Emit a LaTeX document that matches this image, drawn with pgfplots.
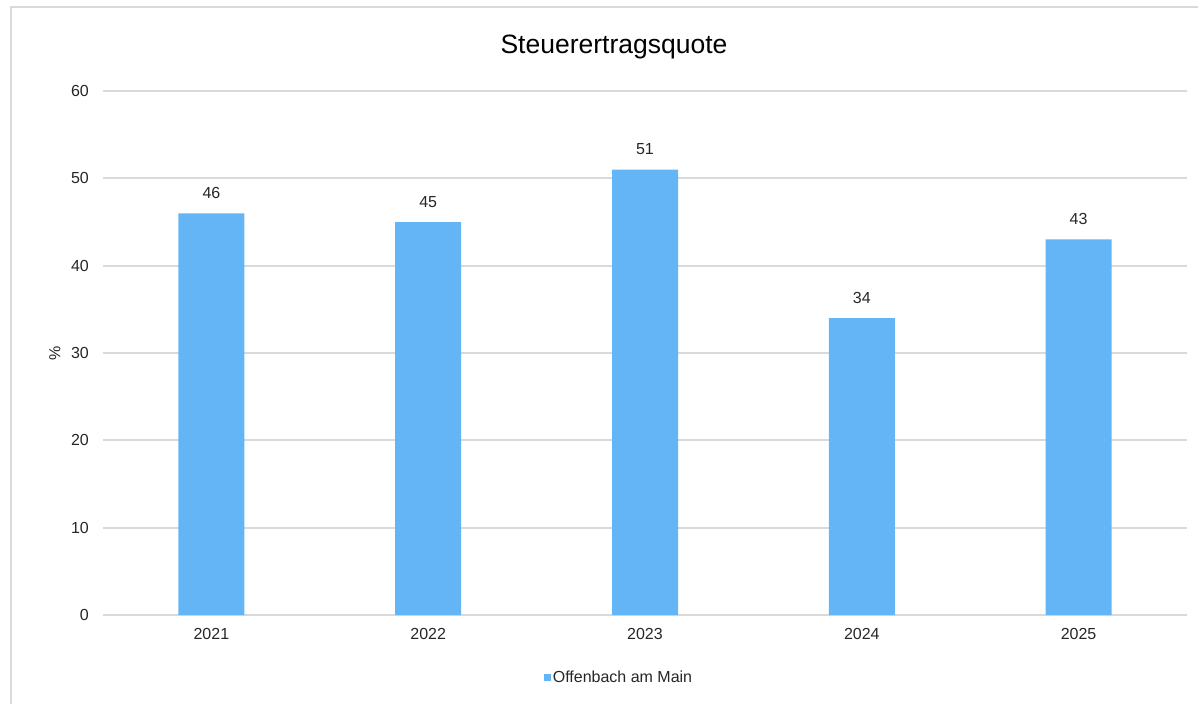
\documentclass[border=0pt]{standalone}
\usepackage{pgfplots}
\pgfplotsset{compat=1.18}
\usepackage{fontspec}
\setmainfont{Liberation Sans}

\definecolor{barblue}{RGB}{100,181,246}
\definecolor{gridgray}{RGB}{217,217,217}
\definecolor{txt}{RGB}{38,38,38}

\begin{document}
\begin{tikzpicture}
\useasboundingbox (-103pt,-89pt) rectangle (1095pt,615pt);
% chart frame (left and top edges only)
\draw[gridgray, line width=2.5pt] (-92pt,-89pt) -- (-92pt,608pt) -- (1095pt,608pt);
\begin{axis}[
    at={(0pt,0pt)}, anchor=south west,
    scale only axis,
    width=1084pt, height=524pt,
    xmin=-0.5, xmax=4.5,
    ymin=0, ymax=60,
    ytick={0,10,...,60},
    xtick=data,
    xticklabels={2021,2022,2023,2024,2025},
    major tick length=0pt,
    axis lines*=left,
    axis line style={draw=none},
    ymajorgrids,
    grid style={gridgray, line width=2pt},
    font=\fontsize{16pt}{19pt}\selectfont,
    tick label style={txt},
    /pgf/number format/assume math mode=true,
    yticklabel style={anchor=east, inner sep=0pt, xshift=-14pt},
    xticklabel style={anchor=north, inner sep=0pt, yshift=-13pt},
    ylabel={\%},
    ylabel style={at={(axis description cs:-0.0443,0.5)}, anchor=center, txt},
    title={Steuerertragsquote},
    title style={at={(axis description cs:0.4714,1)}, anchor=base, yshift=32pt,
        font=\fontsize{26.5pt}{30pt}\selectfont, text=black},
    ybar, bar width=66pt, bar shift=0pt,
    nodes near coords,
    every node near coord/.append style={anchor=south, inner sep=0pt, yshift=14.5pt, txt},
    legend style={at={(axis description cs:0.476,0)}, anchor=center, yshift=-62pt,
        draw=none, fill=none, inner sep=0pt, text=txt,
        /tikz/every even column/.append style={column sep=0pt}},
    legend cell align=left,
    legend image code/.code={\fill[barblue] (0pt,-4pt) rectangle (7pt,3pt);},
]
\addplot[fill=barblue, draw=none] coordinates {(0,46) (1,45) (2,51) (3,34) (4,43)};
\addlegendentry{Offenbach am Main}
\end{axis}
\end{tikzpicture}
\end{document}
